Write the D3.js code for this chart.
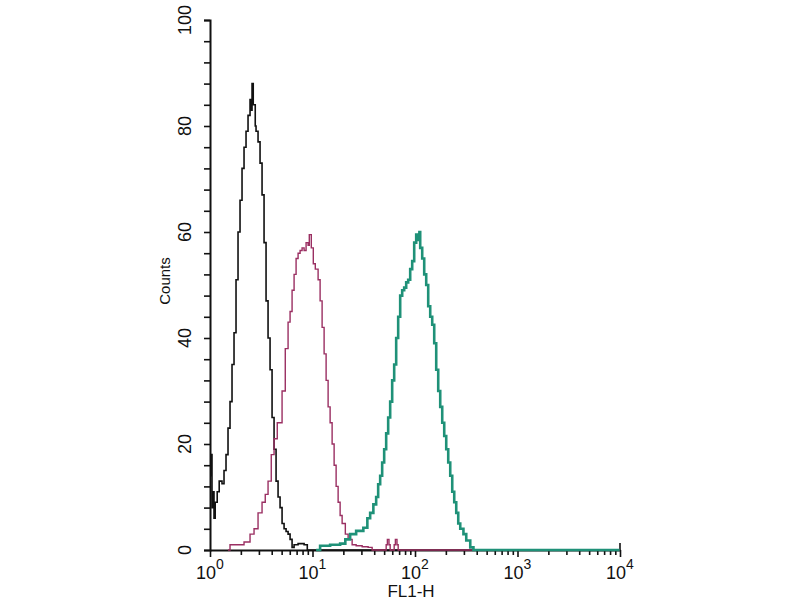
<!DOCTYPE html>
<html>
<head>
<meta charset="utf-8">
<script src="https://cdn.jsdelivr.net/npm/d3@7"></script>
<style>
  html, body { margin: 0; padding: 0; background: #fff; }
  svg { display: block; }
  text { font-family: "Liberation Sans Narrow", "Arial Narrow", "Liberation Sans", Arial, sans-serif; fill: #111; }
</style>
</head>
<body>
<svg id="chart" width="800" height="600"></svg>
<script>
// FL1-H histogram data: channel (0-1023 on a 4-decade log scale) and counts
const blackChannels = [0,3,5,8,10,13,18,23,30,35,40,45,50,55,60,65,70,75,80,85,90,95,100,103,105,108,113,115,120,125,130,135,140,145,150,155,160,165,170,175,180,185,190,195,200,205,210,220,235,243,1023];
const blackCounts   = [14,18,8,11,6,9,11,13,12.5,15,18,23,28,35,41,51,60,66,72,76,79,82,85,83,88,84,80,79,77,73,67,58,47,40,34,25,19,13,10,8,5,4,3.5,3,2,0.5,1,1.2,1,0,0];

const pinkChannels = [45,50,65,85,100,110,120,130,138,145,153,160,168,173,180,188,195,200,205,210,215,220,225,230,235,240,245,248,253,258,263,270,275,280,285,290,295,300,305,310,315,320,325,330,338,345,355,365,380,395,405,440,443,447,450,460,463,467,470,1023];
const pinkCounts   = [0,1,1,1.5,3,4,7,9,10.5,13,18,21,24,24,30,38,43,45,49,52,55,56,56.5,57,56.5,58,57.5,59.5,57,54,53,51,47,42,37,32,27,24,20,16,12,9,6.5,5,3,2,1,0.8,0.6,0.5,0,1,2,1,0,1,2,1,0,0];

const tealChannels = [265,275,300,325,338,350,365,383,393,400,408,415,420,425,430,435,440,445,450,455,460,465,470,475,480,485,490,495,500,505,510,515,520,523,525,530,535,540,545,550,555,560,565,570,575,580,585,590,595,600,605,610,615,620,625,633,640,650,658,1023];
const tealCounts   = [0,0.8,1,1.2,2,3,3.6,4.2,6,7,8.6,10,12.4,14,16.5,19,22,25,28,32,35,40,44,48,49,49.5,50.5,51,53,54.5,58,59.5,58.5,60,57,55,52,50,46,44,42.5,39,34,30,27,24,21.5,19,16.5,14,11,9,7,5,4,3,1.8,0.5,0,0];

const yTicks = [0,20,40,60,80,100];
const xDecades = [0,1,2,3,4];
const xLabel = "FL1-H";
const yLabel = "Counts";

const svg = d3.select("#chart");

const x = d3.scaleLog().domain([1, 10000]).range([210, 620]);
const y = d3.scaleLinear().domain([0, 100]).range([550, 20]);

const chanToValue = c => Math.pow(10, c / 256);

function seriesOf(ch, ct) {
  return ch.map((c, i) => ({ v: chanToValue(c), n: ct[i] }));
}

const axisColor = "#111";
// y axis
const yAxis = d3.axisLeft(y)
  .tickValues(d3.range(0, 101, 4))
  .tickSize(6)
  .tickFormat("");
const gy = svg.append("g").attr("transform", "translate(210,0)").call(yAxis);
gy.selectAll("path").attr("stroke", axisColor).attr("stroke-width", 2);
gy.selectAll("line").attr("stroke", axisColor).attr("stroke-width", 1.6);

// x axis
const minorVals = [];
xDecades.slice(0, -1).forEach(d => { for (let k = 2; k <= 9; k++) minorVals.push(k * Math.pow(10, d)); });
const xAxisMinor = d3.axisBottom(x).tickValues(minorVals).tickSize(5).tickFormat("").tickSizeOuter(0);
const gx = svg.append("g").attr("transform", "translate(0,550)").call(xAxisMinor);
gx.selectAll("path").attr("stroke", axisColor).attr("stroke-width", 2);
gx.selectAll("line").attr("stroke", axisColor).attr("stroke-width", 1.6);
const xAxisMajor = d3.axisBottom(x).tickValues(xDecades.map(d => Math.pow(10, d))).tickSize(7).tickFormat("").tickSizeOuter(0);
const gx2 = svg.append("g").attr("transform", "translate(0,550)").call(xAxisMajor);
gx2.select("path").remove();
gx2.selectAll("line").attr("stroke", axisColor).attr("stroke-width", 1.6);
svg.append("line")
  .attr("x1", x(10000)).attr("x2", x(10000))
  .attr("y1", y(0)).attr("y2", y(0) - 7)
  .attr("stroke", axisColor).attr("stroke-width", 1.6);

// y tick labels (rotated)
svg.append("g").selectAll("text").data(yTicks).join("text")
  .attr("transform", d => `translate(185,${y(d)}) rotate(-90)`)
  .attr("text-anchor", "middle")
  .attr("dominant-baseline", "central")
  .attr("font-size", 18)
  .text(d => d);

// x tick labels 10^n
const xl = svg.append("g").selectAll("text").data(xDecades).join("text")
  .attr("x", d => x(Math.pow(10, d)))
  .attr("y", 579)
  .attr("text-anchor", "middle")
  .attr("font-size", 18);
xl.append("tspan").text("10");
xl.append("tspan").attr("dy", -10).attr("font-size", 14).text(d => d);

// axis titles
svg.append("text")
  .attr("transform", "translate(170,281) rotate(-90)")
  .attr("text-anchor", "middle")
  .attr("font-size", 15)
  .text(yLabel);
svg.append("text")
  .attr("x", 411).attr("y", 597)
  .attr("text-anchor", "middle")
  .attr("font-size", 17)
  .text(xLabel);

// Histograms
const line = d3.line()
  .x(d => x(d.v))
  .y(d => y(d.n))
  .curve(d3.curveStepAfter);

const series = [
  { data: seriesOf(blackChannels, blackCounts), color: "#111111", width: 1.6 },
  { data: seriesOf(pinkChannels, pinkCounts), color: "#9a2f62", width: 1.4 },
  { data: seriesOf(tealChannels, tealCounts), color: "#1f9178", width: 2.6 }
];

svg.append("g").selectAll("path").data(series).join("path")
  .attr("d", d => line(d.data))
  .attr("fill", "none")
  .attr("stroke", d => d.color)
  .attr("stroke-width", d => d.width)
  .attr("stroke-linejoin", "miter");
</script>
</body>
</html>
